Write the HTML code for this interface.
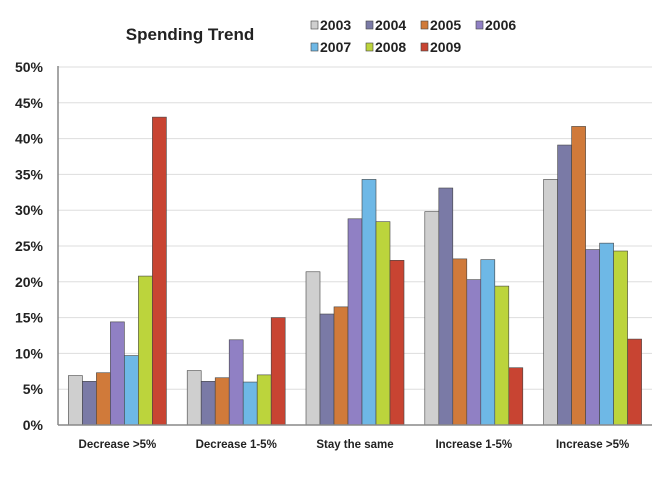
<!DOCTYPE html>
<html><head><meta charset="utf-8"><style>
body{margin:0;background:#fff;font-family:"Liberation Sans",sans-serif;}
svg text{font-family:"Liberation Sans",sans-serif;font-weight:bold;fill:#222;}
</style></head><body>
<svg width="669" height="474">
<g id="grid"></g>
<g id="bars"></g>
<g id="axes"></g>
<text x="190" y="40" text-anchor="middle" font-size="17">Spending Trend</text>
<g id="legend"></g>
</svg>
<script>
const categories=["Decrease >5%","Decrease 1-5%","Stay the same","Increase 1-5%","Increase >5%"];
const years=["2003","2004","2005","2006","2007","2008","2009"];
const colors=["#cfcfcf","#7a7aa6","#d07a3a","#9080c4","#6eb8e6","#bcd43c","#c84432"];
const s2003=[6.9,7.6,21.4,29.8,34.3];
const s2004=[6.1,6.1,15.5,33.1,39.1];
const s2005=[7.3,6.6,16.5,23.2,41.7];
const s2006=[14.4,11.9,28.8,20.3,24.5];
const s2007=[9.7,6.0,34.3,23.1,25.4];
const s2008=[20.8,7.0,28.4,19.4,24.3];
const s2009=[43.0,15.0,23.0,8.0,12.0];
const tickLabels=["0%","5%","10%","15%","20%","25%","30%","35%","40%","45%","50%"];
const tickValues=[0,5,10,15,20,25,30,35,40,45,50];
const series=[s2003,s2004,s2005,s2006,s2007,s2008,s2009];
const NS="http://www.w3.org/2000/svg";
const x0=58,x1=652,y0=425,y1=67,ymax=50;
const y=v=>y0-(v/ymax)*(y0-y1);
const gw=(x1-x0)/categories.length, bw=14;
function mk(t,a,p){const e=document.createElementNS(NS,t);for(const k in a)e.setAttribute(k,a[k]);p.appendChild(e);return e;}
const grid=document.getElementById('grid'),axes=document.getElementById('axes'),bars=document.getElementById('bars'),legend=document.getElementById('legend');
tickValues.forEach((v,i)=>{
 const l=mk('line',{x1:x0,x2:x1,y1:y(v),y2:y(v),stroke:'#ddd','stroke-width':1},grid);
 
 
 const t=mk('text',{x:43,y:y(v)+5,'text-anchor':'end','font-size':14},axes);t.textContent=tickLabels[i];
 
 
});
const ax=mk('line',{x1:x0,x2:x0,y1:y1-1,y2:y0,stroke:'#888','stroke-width':1.5},axes);


const bx=mk('line',{x1:x0,x2:x1,y1:y0,y2:y0,stroke:'#888','stroke-width':1.5},axes);


categories.forEach((c,ci)=>{
 const cx=x0+gw*(ci+0.5);
 const start=cx-bw*series.length/2;
 series.forEach((s,si)=>{
  const r=mk('rect',{x:start+si*bw,y:y(s[ci]),width:bw,height:y0-y(s[ci]),fill:colors[si],stroke:'#444','stroke-width':0.6},bars);
  
  
 });
 const t=mk('text',{x:cx,y:448,'text-anchor':'middle','font-size':11.5},axes);t.textContent=c;
 
 
});
years.forEach((yr,i)=>{
 const col=i%4,row=Math.floor(i/4);
 const lx=311+col*55,ly=30+row*22;
 const g=mk('g',{},legend);
 
 
 mk('rect',{x:lx,y:ly-9,width:7,height:8,fill:colors[i],stroke:'#444','stroke-width':0.6},g);
 const t=mk('text',{x:lx+9,y:ly,'font-size':14},g);t.textContent=yr;
});
</script>
</body></html>
